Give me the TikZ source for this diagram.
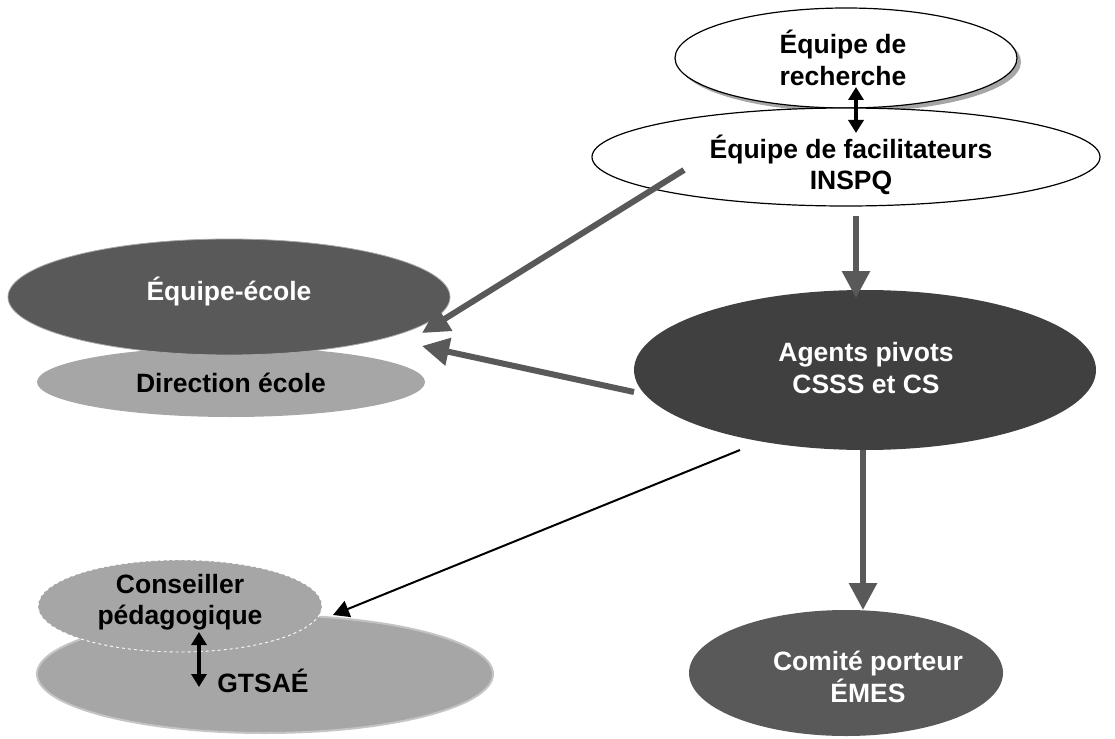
\documentclass[tikz,border=0pt]{standalone}
\usepackage{fontspec}
\setmainfont{Liberation Sans}
\usetikzlibrary{shapes.geometric,arrows.meta}
\definecolor{dk}{HTML}{595959}
\definecolor{vdk}{HTML}{404040}
\definecolor{lt}{HTML}{A6A6A6}
\definecolor{ltedge}{HTML}{C4C4C4}
\tikzset{
  ell/.style={ellipse,inner sep=0pt},
  lbl/.style={align=center,font=\fontsize{26.5}{31.5}\selectfont\bfseries},
  thickarrow/.style={draw=dk,line width=6pt,-{Triangle[length=27pt,width=27pt]}},
  thinarrow/.style={draw=black,line width=2pt,-{Triangle[length=16pt,width=17pt]}},
  dblarrow/.style={draw=black,line width=4pt,{Triangle[length=13pt,width=15pt]}-{Triangle[length=13pt,width=15pt]}}
}
\begin{document}
\begin{tikzpicture}[x=1pt,y=-1pt]
\useasboundingbox (0,0) rectangle (1115,738);
% top ellipses
\node[ell,fill=gray!70,minimum width=342pt,minimum height=100pt] (shadow) at (850,62) {};
\node[ell,draw=black,line width=1.2pt,fill=white,minimum width=342pt,minimum height=100pt] (rech) at (846,58) {};
\node[ell,draw=black,line width=1.2pt,fill=white,minimum width=508pt,minimum height=98pt] (facil) at (846,157) {};
\node[lbl] (rechT) at (843,58) {Équipe de\\recherche};
\node[lbl] (facilT) at (851,165) {Équipe de facilitateurs\\INSPQ};
\coordinate (d1a) at (856,87);
\coordinate (d1b) at (856,133);
\draw[dblarrow] (d1a) -- (d1b);
% ecole
\node[ell,fill=lt,minimum width=388pt,minimum height=70pt] (dir) at (231,382) {};
\node[ell,fill=dk,draw=gray!70,line width=0.8pt,minimum width=442pt,minimum height=116pt] (ecole) at (229,297) {};
\node[lbl,text=white] (ecoleT) at (229,292) {Équipe-école};
\node[lbl] (dirT) at (231,383) {Direction école};
% agents
\node[ell,fill=vdk,minimum width=462pt,minimum height=160pt] (agents) at (865,370) {};
\node[lbl,text=white] (agentsT) at (866,368) {Agents pivots\\CSSS et CS};
% GTSAE
\node[ell,fill=lt,draw=ltedge,line width=2pt,minimum width=456pt,minimum height=118pt] (gts) at (265,674) {};
\node[ell,fill=lt,draw=white,dashed,line width=0.9pt,minimum width=284pt,minimum height=92pt] (cons) at (180,606) {};
\node[lbl] (consT) at (180,602) {Conseiller\\pédagogique};
\node[lbl] (gtsT) at (263,681) {GTSAÉ};
\coordinate (d2a) at (199,632);
\coordinate (d2b) at (199,687);
\draw[dblarrow] (d2a) -- (d2b);
% comite
\node[ell,fill=dk,minimum width=314pt,minimum height=126pt] (comite) at (846,673) {};
\node[lbl,text=white] (comiteT) at (868,677) {Comité porteur\\ÉMES};
% arrows
\coordinate (a1s) at (684,170);
\coordinate (a1e) at (422,333);
\draw[thickarrow] (a1s) -- (a1e);
\coordinate (a2s) at (856,216);
\coordinate (a2e) at (856,298);
\draw[thickarrow] (a2s) -- (a2e);
\coordinate (a3s) at (634,392);
\coordinate (a3e) at (422,346);
\draw[thickarrow] (a3s) -- (a3e);
\coordinate (a4s) at (740,450);
\coordinate (a4e) at (333,615);
\draw[thinarrow] (a4s) -- (a4e);
\coordinate (a5s) at (863,450);
\coordinate (a5e) at (863,610);
\draw[thickarrow] (a5s) -- (a5e);
\end{tikzpicture}
\end{document}
